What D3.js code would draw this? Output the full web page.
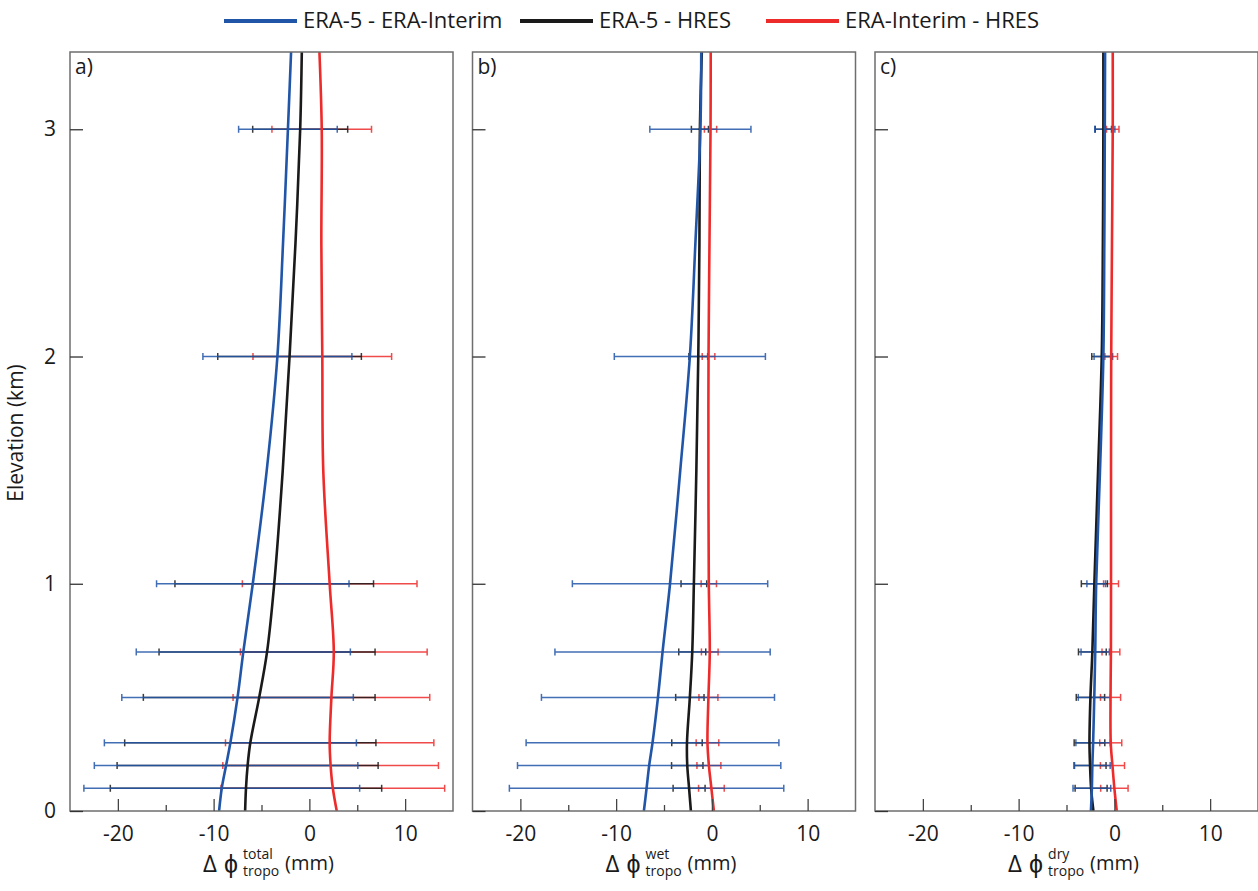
<!DOCTYPE html>
<html><head><meta charset="utf-8">
<script src="https://cdn.jsdelivr.net/npm/d3@7"></script>
<style>
body{margin:0;background:#fff}
text{font-family:"Open Sans",sans-serif;fill:#1a1a1a}
</style>
</head><body>
<svg id="chart" width="1258" height="891"></svg>
<script>
// ---------- DATA ----------
const seriesNames = ["ERA-5 - ERA-Interim", "ERA-5 - HRES", "ERA-Interim - HRES"];
const panelLetters = ["a)", "b)", "c)"];
const componentLabels = ["total", "wet", "dry"];
const xMajorTicks = [-20, -10, 0, 10];
const xMinorTicks = [-15, -5, 5];
const yTicks = [0, 1, 2, 3];

// heights (km) of the smooth profiles
const profileHeights = [0, 0.1, 0.2, 0.3, 0.5, 0.7, 1, 1.5, 2, 2.5, 3, 3.34];
// heights (km) where error bars are drawn
const errLevels = [0.1, 0.2, 0.3, 0.5, 0.7, 1, 2, 3];

// panel a) total
const aBlue  = [-9.43, -9.15, -8.70, -8.25, -7.50, -6.90, -5.91, -4.45, -3.34, -2.75, -2.24, -1.91];
const aBlack = [-6.71, -6.62, -6.45, -6.17, -5.24, -4.42, -3.67, -2.78, -2.07, -1.45, -0.96, -0.79];
const aRed   = [ 2.86,  2.45,  2.22,  2.12,  2.30,  2.55,  2.12,  1.45,  1.35,  1.25,  1.29,  1.05];
const aBlueStd  = [14.40, 13.76, 13.16, 12.09, 11.18, 10.05, 7.78, 5.15];
const aBlackStd = [14.17, 13.63, 13.12, 12.10, 11.28, 10.37, 7.50, 4.96];
const aRedStd   = [11.68, 11.26, 10.88, 10.27,  9.75,  9.12, 7.24, 5.20];

// panel b) wet
const bBlue  = [-7.10, -6.82, -6.55, -6.20, -5.63, -5.15, -4.37, -3.30, -2.30, -1.72, -1.20, -1.11];
const bBlack = [-2.19, -2.38, -2.57, -2.60, -2.30, -2.05, -1.88, -1.62, -1.42, -1.30, -1.25, -1.05];
const bRed   = [ 0.21, -0.05, -0.31, -0.46, -0.36, -0.22, -0.32, -0.36, -0.35, -0.25, -0.14, -0.12];
const bBlueStd  = [14.33, 13.75, 13.20, 12.17, 11.24, 10.20, 7.89, 5.28];
const bBlackStd = [ 1.67,  1.64,  1.59,  1.48,  1.41,  1.34, 0.98, 0.89];
const bRedStd   = [ 1.34,  1.25,  1.18,  0.99,  0.87,  0.80, 0.66, 0.64];

// panel c) dry
const cBlue  = [-2.45, -2.35, -2.30, -2.22, -2.10, -2.00, -1.90, -1.50, -1.15, -1.05, -1.00, -0.97];
const cBlack = [-2.19, -2.43, -2.54, -2.60, -2.50, -2.30, -2.09, -1.70, -1.32, -1.20, -1.15, -1.15];
const cRed   = [ 0.25,  0.00, -0.20, -0.38, -0.40, -0.36, -0.35, -0.35, -0.33, -0.25, -0.17, -0.17];
const cBlueStd  = [1.97, 1.86, 1.80, 1.67, 1.48, 0.97, 0.97, 1.05];
const cBlackStd = [1.67, 1.67, 1.60, 1.48, 1.45, 1.36, 1.04, 0.85];
const cRedStd   = [1.43, 1.26, 1.15, 1.05, 0.93, 0.78, 0.66, 0.65];

// ---------- STYLE ----------
const colors = ["#2155a8", "#1a1a1a", "#ee2b2b"];
const panelLefts = [70, 472.5, 875];
const panelW = 383, plotTop = 52, plotBottom = 811;

const panels = [
  {profiles:[aBlue,aBlack,aRed], stds:[aBlueStd,aBlackStd,aRedStd]},
  {profiles:[bBlue,bBlack,bRed], stds:[bBlueStd,bBlackStd,bRedStd]},
  {profiles:[cBlue,cBlack,cRed], stds:[cBlueStd,cBlackStd,cRedStd]}
];

const svg = d3.select("#chart");
const y = d3.scaleLinear().domain([0, 3.34]).range([plotBottom, plotTop]);

panels.forEach((p, pi) => {
  const L = panelLefts[pi];
  const x = d3.scaleLinear().domain([-25, 15]).range([L, L + panelW]);
  const g = svg.append("g");

  const cid = "clip" + pi;
  svg.append("clipPath").attr("id", cid).append("rect")
    .attr("x", L).attr("y", plotTop).attr("width", panelW).attr("height", plotBottom - plotTop);

  // error bars: red, black, blue (blue on top)
  const cap = 3.5;
  [2, 1, 0].forEach(si => {
    const eg = g.append("g").attr("stroke", colors[si]).attr("stroke-width", 1.5).attr("opacity", 0.85);
    errLevels.forEach((lv, li) => {
      const idx = profileHeights.indexOf(lv);
      const m = p.profiles[si][idx], s = p.stds[si][li];
      const yy = y(lv);
      eg.append("line").attr("x1", x(m - s)).attr("x2", x(m + s)).attr("y1", yy).attr("y2", yy);
      eg.append("line").attr("x1", x(m - s)).attr("x2", x(m - s)).attr("y1", yy - cap).attr("y2", yy + cap);
      eg.append("line").attr("x1", x(m + s)).attr("x2", x(m + s)).attr("y1", yy - cap).attr("y2", yy + cap);
    });
  });

  // curves: black, blue, red
  const line = d3.line().x(d => x(d[0])).y(d => y(d[1])).curve(d3.curveCatmullRom.alpha(0.5));
  [1, 0, 2].forEach(si => {
    const pts = profileHeights.map((h, i) => [p.profiles[si][i], h]);
    g.append("path").attr("d", line(pts)).attr("fill", "none")
      .attr("stroke", colors[si]).attr("stroke-width", 2.6)
      .attr("clip-path", `url(#${cid})`);
  });

  // frame
  svg.append("rect").attr("x", L).attr("y", plotTop).attr("width", panelW).attr("height", plotBottom - plotTop)
    .attr("fill", "none").attr("stroke", "#6e6e6e").attr("stroke-width", 1.5);

  // x axis major
  const ax = svg.append("g").attr("transform", `translate(0,${plotBottom})`)
    .call(d3.axisBottom(x).tickValues(xMajorTicks).tickSizeInner(-12).tickSizeOuter(0).tickPadding(15)
      .tickFormat(d => String(d)));
  ax.select(".domain").remove();
  ax.selectAll("line").attr("stroke", "#444").attr("stroke-width", 1.3);
  ax.selectAll("text").attr("font-size", 21).attr("fill", "#1a1a1a").attr("font-family", "Open Sans");
  const axm = svg.append("g").attr("transform", `translate(0,${plotBottom})`)
    .call(d3.axisBottom(x).tickValues(xMinorTicks).tickSizeInner(-6).tickSizeOuter(0).tickFormat(""));
  axm.select(".domain").remove();
  axm.selectAll("line").attr("stroke", "#444").attr("stroke-width", 1.3);

  // y axis
  const ay = svg.append("g").attr("transform", `translate(${L},0)`)
    .call(d3.axisLeft(y).tickValues(yTicks).tickSizeInner(-13).tickSizeOuter(0).tickPadding(14)
      .tickFormat(pi === 0 ? (d => String(d)) : () => ""));
  ay.select(".domain").remove();
  ay.selectAll("line").attr("stroke", "#333").attr("stroke-width", 1.3);
  ay.selectAll("text").attr("font-size", 21).attr("fill", "#1a1a1a").attr("font-family", "Open Sans");

  // panel letter
  svg.append("text").attr("x", L + 5).attr("y", 74).attr("font-size", 21).text(panelLetters[pi]);

  // x-axis label
  const sx = x(-11.1);
  const lab = svg.append("g");
  lab.append("text").attr("x", sx).attr("y", 872).attr("font-size", 24).text("Δ");
  lab.append("text").attr("x", sx + 21).attr("y", 873).attr("font-size", 25).text("ϕ");
  lab.append("text").attr("x", sx + 40).attr("y", 859).attr("font-size", 14).text(componentLabels[pi]);
  lab.append("text").attr("x", sx + 40).attr("y", 876).attr("font-size", 14).text("tropo");
  lab.append("text").attr("x", sx + 82).attr("y", 870).attr("font-size", 20).text("(mm)");
});

// y label
svg.append("text").attr("transform", "translate(23,433) rotate(-90)")
  .attr("text-anchor", "middle").attr("font-size", 21).text("Elevation (km)");

// legend
const legendX = [224, 520, 766];
const lg = svg.append("g");
seriesNames.forEach((n, i) => {
  lg.append("line").attr("x1", legendX[i]).attr("x2", legendX[i] + 73).attr("y1", 21).attr("y2", 21)
    .attr("stroke", colors[i]).attr("stroke-width", 4);
  lg.append("text").attr("x", legendX[i] + 79).attr("y", 28).attr("font-size", 22).text(n);
});
</script>
</body></html>
